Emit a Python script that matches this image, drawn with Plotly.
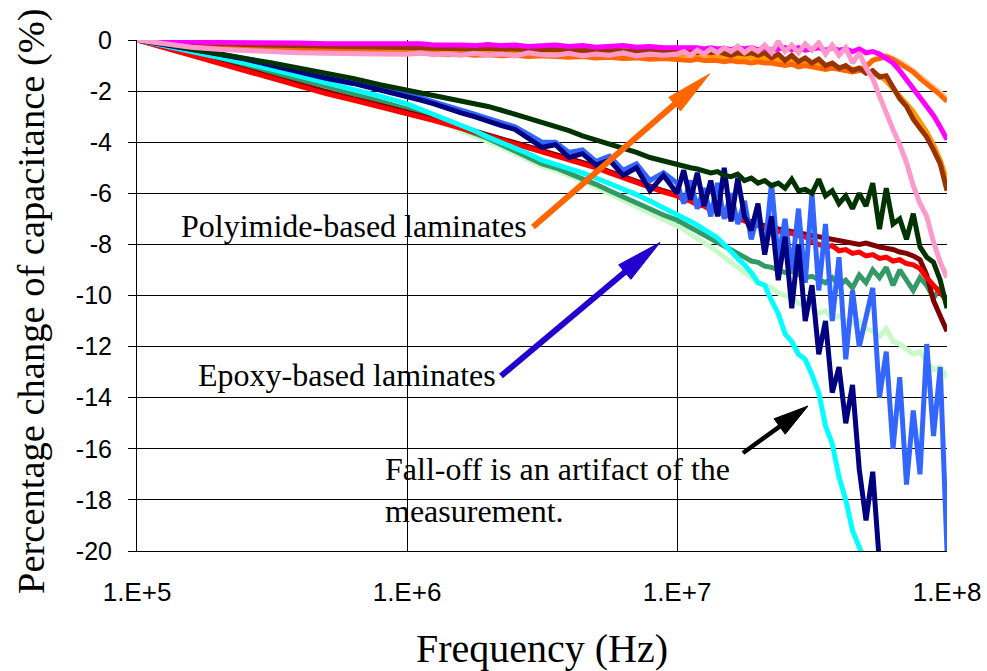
import math
import plotly.graph_objects as go

# ---------------- data ----------------
FREQ_HZ = [
    1.000e5, 1.259e5, 1.585e5, 1.995e5, 2.512e5, 3.162e5, 3.981e5, 5.012e5, 6.310e5, 7.943e5,
    1.000e6, 1.122e6, 1.259e6, 1.413e6, 1.585e6, 1.778e6, 1.995e6, 2.239e6, 2.512e6, 2.818e6,
    3.162e6, 3.548e6, 3.981e6, 4.467e6, 5.012e6, 5.623e6, 6.310e6, 7.079e6, 7.943e6, 8.913e6,
    1.000e7, 1.059e7, 1.122e7, 1.189e7, 1.259e7, 1.334e7, 1.413e7, 1.496e7, 1.585e7, 1.679e7,
    1.778e7, 1.884e7, 1.995e7, 2.113e7, 2.239e7, 2.371e7, 2.512e7, 2.661e7, 2.818e7, 2.985e7,
    3.162e7, 3.350e7, 3.548e7, 3.758e7, 3.981e7, 4.217e7, 4.467e7, 4.732e7, 5.012e7, 5.309e7,
    5.623e7, 5.957e7, 6.310e7, 6.683e7, 7.079e7, 7.499e7, 7.943e7, 8.414e7, 8.913e7, 9.441e7,
    1.000e8,
]

PINK = [
    0, -0.15, -0.28, -0.36, -0.42, -0.47, -0.5, -0.52, -0.55, -0.55,
    -0.56, -0.5, -0.58, -0.55, -0.6, -0.52, -0.6, -0.55, -0.62, -0.5,
    -0.58, -0.6, -0.52, -0.62, -0.55, -0.6, -0.5, -0.62, -0.55, -0.6,
    -0.55, -0.45, -0.6, -0.4, -0.55, -0.35, -0.5, -0.3, -0.45, -0.25,
    -0.5, -0.3, -0.45, -0.2, -0.5, -0.05, -0.45, -0.2, -0.5, -0.15,
    -0.4, -0.1, -0.55, -0.2, -0.6, -0.3, -0.9, -0.5, -1.1, -1.5,
    -2.2, -2.9, -3.5, -4.1, -4.8, -5.7, -6.4, -6.9, -7.9, -8.7,
    -9.3,
]
MAGENTA = [
    0, -0.05, -0.08, -0.1, -0.1, -0.12, -0.12, -0.15, -0.15, -0.15,
    -0.18, -0.15, -0.2, -0.18, -0.2, -0.22, -0.18, -0.22, -0.2, -0.25,
    -0.22, -0.2, -0.25, -0.22, -0.28, -0.25, -0.22, -0.28, -0.25, -0.3,
    -0.3, -0.28, -0.32, -0.3, -0.35, -0.3, -0.35, -0.32, -0.38, -0.3,
    -0.35, -0.3, -0.38, -0.32, -0.4, -0.35, -0.3, -0.38, -0.3, -0.4,
    -0.35, -0.3, -0.4, -0.3, -0.4, -0.35, -0.45, -0.35, -0.5, -0.45,
    -0.55, -0.7, -0.9, -1.2, -1.55, -1.9, -2.25, -2.6, -2.95, -3.4,
    -3.9,
]
ORANGE = [
    0, -0.08, -0.15, -0.22, -0.28, -0.33, -0.38, -0.42, -0.46, -0.5,
    -0.52, -0.5, -0.55, -0.58, -0.55, -0.6, -0.58, -0.62, -0.6, -0.65,
    -0.62, -0.66, -0.68, -0.65, -0.7, -0.68, -0.72, -0.7, -0.75, -0.72,
    -0.75, -0.75, -0.8, -0.75, -0.8, -0.8, -0.8, -0.85, -0.8, -0.85,
    -0.85, -0.9, -0.85, -0.9, -0.9, -0.95, -1.0, -0.95, -1.05, -1.0,
    -1.05, -1.1, -1.15, -1.1, -1.15, -1.2, -1.25, -1.2, -1.05, -0.8,
    -0.7, -0.65, -0.75, -0.9, -1.05, -1.25, -1.5, -1.7, -1.9, -2.15,
    -2.4,
]
PEACH = [
    0, -0.06, -0.12, -0.18, -0.24, -0.28, -0.32, -0.36, -0.4, -0.44,
    -0.46, -0.48, -0.5, -0.52, -0.5, -0.55, -0.56, -0.58, -0.56, -0.6,
    -0.62, -0.6, -0.64, -0.62, -0.66, -0.65, -0.68, -0.66, -0.7, -0.7,
    -0.72, -0.7, -0.75, -0.74, -0.76, -0.78, -0.76, -0.8, -0.82, -0.8,
    -0.84, -0.86, -0.84, -0.88, -0.9, -0.92, -0.95, -0.94, -0.98, -1.0,
    -1.0, -1.05, -1.08, -1.1, -1.12, -1.15, -1.18, -1.15, -1.0, -0.78,
    -0.65, -0.6, -0.7, -0.85, -1.0, -1.2, -1.42, -1.62, -1.85, -2.05,
    -2.3,
]
LIGHT_ORANGE = [
    0, -0.08, -0.14, -0.2, -0.24, -0.28, -0.3, -0.33, -0.35, -0.37,
    -0.4, -0.38, -0.42, -0.4, -0.44, -0.42, -0.45, -0.44, -0.47, -0.45,
    -0.48, -0.47, -0.5, -0.48, -0.5, -0.52, -0.5, -0.53, -0.52, -0.55,
    -0.55, -0.58, -0.56, -0.6, -0.58, -0.62, -0.6, -0.65, -0.68, -0.64,
    -0.7, -0.66, -0.74, -0.7, -0.8, -0.74, -0.85, -0.8, -0.9, -0.85,
    -0.95, -0.9, -1.02, -1.0, -1.1, -1.05, -1.15, -1.12, -1.2, -1.3,
    -1.4, -1.6, -1.9, -2.2, -2.5, -2.8, -3.2, -3.6, -4.1, -4.7,
    -5.5,
]
BROWN = [
    0, -0.06, -0.1, -0.14, -0.18, -0.2, -0.22, -0.25, -0.27, -0.28,
    -0.3, -0.28, -0.32, -0.3, -0.33, -0.35, -0.32, -0.36, -0.35, -0.38,
    -0.36, -0.38, -0.4, -0.38, -0.42, -0.4, -0.42, -0.4, -0.45, -0.42,
    -0.42, -0.45, -0.4, -0.5, -0.45, -0.5, -0.45, -0.55, -0.6, -0.5,
    -0.55, -0.5, -0.6, -0.5, -0.7, -0.55, -0.8, -0.6, -0.85, -0.7,
    -0.9, -0.75, -1.0, -0.9, -1.1, -1.0, -1.2, -1.1, -1.3, -1.2,
    -1.45, -1.4, -1.85, -2.3, -2.6, -3.1, -3.45, -3.8, -4.3, -4.85,
    -5.9,
]
DARK_GREEN = [
    0, -0.15, -0.35, -0.55, -0.72, -0.9, -1.1, -1.3, -1.5, -1.75,
    -1.96, -2.05, -2.15, -2.25, -2.35, -2.5, -2.6, -2.75, -2.9, -3.05,
    -3.25, -3.4, -3.55, -3.75, -3.9, -4.05, -4.25, -4.4, -4.6, -4.75,
    -4.85, -4.95, -5.0, -5.05, -5.1, -5.2, -5.15, -5.3, -5.35, -5.25,
    -5.5, -5.4, -5.6, -5.5, -5.7, -5.6, -5.8, -5.45, -5.9, -5.85,
    -6.0, -5.45, -6.1, -5.9, -6.4, -6.1, -6.6, -6.0, -6.5, -5.6,
    -7.4, -5.8, -7.2, -7.0, -7.8, -6.8, -8.1, -8.5, -8.7, -9.4,
    -10.5,
]
RED = [
    0, -0.3, -0.6, -0.9, -1.2, -1.5, -1.8, -2.1, -2.35, -2.6,
    -2.85, -3.0, -3.15, -3.3, -3.45, -3.6, -3.75, -3.9, -4.05, -4.2,
    -4.4, -4.55, -4.7, -4.85, -5.0, -5.2, -5.4, -5.6, -5.8, -5.95,
    -6.1, -6.25, -6.3, -6.45, -6.5, -6.65, -6.7, -6.85, -6.9, -7.0,
    -7.1, -7.2, -7.25, -7.35, -7.4, -7.5, -7.5, -7.6, -7.65, -7.7,
    -7.9, -8.0, -8.1, -8.05, -8.25, -8.2, -8.35, -8.3, -8.45, -8.4,
    -8.55, -8.5, -8.65, -8.6, -8.75, -8.8, -8.95, -9.3, -9.6, -9.9,
    -10.2,
]
DARK_RED = [
    0, -0.28, -0.57, -0.86, -1.15, -1.45, -1.75, -2.05, -2.3, -2.55,
    -2.8, -2.95, -3.1, -3.25, -3.4, -3.55, -3.7, -3.85, -4.0, -4.15,
    -4.35, -4.5, -4.65, -4.8, -4.95, -5.15, -5.35, -5.55, -5.75, -5.9,
    -6.05, -6.15, -6.25, -6.35, -6.45, -6.55, -6.65, -6.75, -6.85, -6.95,
    -7.05, -7.1, -7.2, -7.25, -7.35, -7.4, -7.45, -7.5, -7.55, -7.6,
    -7.65, -7.7, -7.75, -7.8, -7.85, -7.9, -7.95, -8.0, -7.95, -8.05,
    -8.1, -8.15, -8.2, -8.3, -8.35, -8.45, -8.6, -9.2, -10.2, -10.8,
    -11.4,
]
CYAN = [
    0, -0.22, -0.45, -0.68, -0.9, -1.15, -1.4, -1.7, -1.95, -2.2,
    -2.5, -2.7, -2.9, -3.15, -3.35, -3.55, -3.8, -4.0, -4.2, -4.45,
    -4.7, -4.85, -5.0, -5.2, -5.4, -5.6, -5.8, -6.05, -6.3, -6.55,
    -6.8, -6.95, -7.1, -7.25, -7.4, -7.55, -7.75, -8.0, -8.3, -8.55,
    -8.8, -9.1, -9.5, -9.6, -10.2, -10.7, -11.5, -11.8, -12.3, -12.5,
    -13.1, -13.8, -15.1, -15.8, -17.1, -18.0, -19.2, -19.9, -20.5, None,
    None, None, None, None, None, None, None, None, None, None,
    None,
]
SEA_GREEN = [
    0, -0.25, -0.5, -0.75, -1.0, -1.25, -1.5, -1.8, -2.1, -2.4,
    -2.65, -2.85, -3.05, -3.25, -3.45, -3.65, -3.85, -4.1, -4.35, -4.6,
    -4.85, -5.0, -5.2, -5.4, -5.65, -5.9, -6.15, -6.4, -6.65, -6.85,
    -7.05, -7.2, -7.35, -7.5, -7.6, -7.75, -7.9, -8.05, -8.2, -8.4,
    -8.5, -8.65, -8.7, -8.85, -8.9, -9.0, -9.1, -9.05, -9.2, -9.3,
    -9.25, -9.4, -9.5, -9.3, -9.6, -9.4, -9.7, -9.2, -9.5, -9.0,
    -9.3, -8.9, -9.6, -9.0, -9.4, -9.8, -9.3, -9.6, -10.1, -9.7,
    -10.3,
]
LIGHT_GREEN = [
    0, -0.27, -0.53, -0.78, -1.04, -1.3, -1.56, -1.86, -2.16, -2.46,
    -2.72, -2.92, -3.12, -3.33, -3.53, -3.74, -3.95, -4.2, -4.45, -4.7,
    -4.95, -5.1, -5.3, -5.52, -5.77, -6.02, -6.28, -6.53, -6.78, -7.0,
    -7.25, -7.4, -7.6, -7.75, -7.9, -8.1, -8.3, -8.5, -8.7, -8.9,
    -9.1, -9.3, -9.5, -9.6, -9.7, -9.9, -10.0, -10.1, -10.3, -10.4,
    -10.5, -10.7, -10.6, -10.9, -10.8, -11.0, -11.1, -11.0, -11.3, -11.4,
    -11.6, -11.3, -11.8, -11.9, -12.1, -12.3, -12.2, -12.6, -12.9, -12.8,
    -13.2,
]
NAVY = [
    0, -0.2, -0.38, -0.55, -0.75, -1.0, -1.25, -1.5, -1.7, -1.95,
    -2.2, -2.35, -2.5, -2.65, -2.85, -3.0, -3.2, -3.35, -3.5, -3.85,
    -4.2, -4.1, -4.6, -4.45, -4.9, -4.7, -5.3, -5.0, -5.9, -5.3,
    -6.0, -5.1, -6.25, -5.2, -6.5, -5.5, -6.9, -5.0, -7.1, -5.4,
    -6.9, -7.45, -6.4, -8.4, -6.9, -9.4, -7.7, -10.5, -8.0, -11.0,
    -9.6, -12.3, -11.0, -13.8, -12.8, -15.0, -13.5, -16.8, -18.8, -16.9,
    -20.5, None, None, None, None, None, None, None, None, None,
    None,
]
BLUE = [
    0, -0.18, -0.35, -0.52, -0.72, -0.95, -1.2, -1.45, -1.65, -1.9,
    -2.1, -2.25, -2.4, -2.55, -2.75, -2.9, -3.05, -3.2, -3.4, -3.7,
    -4.0, -4.0, -4.4, -4.3, -4.75, -4.55, -5.1, -4.85, -5.5, -5.2,
    -5.6, -6.4, -5.5, -6.6, -5.8, -6.9, -5.6, -7.0, -6.0, -7.2,
    -6.3, -7.8, -6.8, -8.3, -5.6, -8.6, -7.0, -9.0, -6.6, -9.5,
    -6.0, -9.8, -7.2, -11.0, -8.5, -12.5, -9.8, -12.0, -10.8, -9.7,
    -14.0, -12.2, -16.0, -13.2, -17.4, -14.5, -17.0, -11.9, -15.5, -12.8,
    -20.0,
]

X_TICK_VALUES = [1e5, 1e6, 1e7, 1e8]
X_TICK_LABELS = ["1.E+5", "1.E+6", "1.E+7", "1.E+8"]
Y_TICK_VALUES = [0, -2, -4, -6, -8, -10, -12, -14, -16, -18, -20]
Y_TICK_LABELS = ["0", "-2", "-4", "-6", "-8", "-10", "-12", "-14", "-16", "-18", "-20"]

# drawing order (first = bottom)
SERIES = [
    ("light green", "#C8FAC8", LIGHT_GREEN),
    ("sea green", "#339966", SEA_GREEN),
    ("dark red", "#800000", DARK_RED),
    ("red", "#FF0000", RED),
    ("cyan", "#00FFFF", CYAN),
    ("blue", "#3366FF", BLUE),
    ("navy", "#000080", NAVY),
    ("dark green", "#003300", DARK_GREEN),
    ("peach", "#FFCC99", PEACH),
    ("light orange", "#FF9900", LIGHT_ORANGE),
    ("orange", "#FF6600", ORANGE),
    ("brown", "#993300", BROWN),
    ("magenta", "#FF00FF", MAGENTA),
    ("pink", "#FF99CC", PINK),
]

for _n, _c, vals in SERIES:
    assert len(vals) == len(FREQ_HZ), _n

fig = go.Figure()
for name, color, vals in SERIES:
    fig.add_trace(go.Scatter(x=FREQ_HZ, y=vals, mode="lines", name=name,
                             line=dict(color=color, width=5), connectgaps=False))

# ---------------- layout ----------------
L, R, T, B = 137, 40, 40, 120
W, H = 987, 671
PW, PH = W - L - R, H - T - B


def px(x):
    return (x - L) / PW


def py(y):
    return (H - B - y) / PH


serif = "Liberation Serif, Times New Roman, serif"
sans = "Liberation Sans, Arial, sans-serif"

fig.update_layout(
    width=W, height=H,
    margin=dict(l=L, r=R, t=T, b=B, autoexpand=False),
    paper_bgcolor="white", plot_bgcolor="white",
    showlegend=False,
    xaxis=dict(
        type="log", range=[5, 8], automargin=False,
        tickvals=X_TICK_VALUES, ticktext=X_TICK_LABELS,
        showgrid=True, gridcolor="black", gridwidth=1,
        showline=True, linecolor="black", linewidth=1,
        ticks="", ticklabelstandoff=18,
        tickfont=dict(family=sans, size=26, color="black"),
        title=dict(text="Frequency (Hz)", standoff=27,
                   font=dict(family=serif, size=40, color="black")),
    ),
    yaxis=dict(
        range=[-20, 0], automargin=False,
        tickvals=Y_TICK_VALUES, ticktext=Y_TICK_LABELS,
        showgrid=True, gridcolor="black", gridwidth=1, zeroline=False,
        showline=True, linecolor="black", linewidth=1,
        ticks="outside", ticklen=8, tickcolor="black",
        ticklabelstandoff=11,
        tickfont=dict(family=sans, size=25, color="black"),
    ),
)

# white text boxes (hide gridlines, as in the reference)
BOXES = [
    (156, 195, 569, 254),
    (172, 343, 521, 403),
    (363, 437, 798, 541),
    (508, 87.5, 602, 93.5),
    (413, 190, 513, 196),
]
shapes = []
for x0, y0, x1, y1 in BOXES:
    shapes.append(dict(type="rect", xref="paper", yref="paper",
                       x0=px(x0), x1=px(x1), y0=py(y1), y1=py(y0),
                       fillcolor="white", line=dict(width=0), layer="between"))


def arrow(tail, tip, color, shaft_w, head_len, head_w):
    (x0, y0), (x1, y1) = tail, tip
    dx, dy = x1 - x0, y1 - y0
    d = math.hypot(dx, dy)
    ux, uy = dx / d, dy / d
    bx, by = x1 - ux * head_len, y1 - uy * head_len
    nx, ny = -uy, ux
    ax1, ay1 = bx + nx * head_w / 2, by + ny * head_w / 2
    ax2, ay2 = bx - nx * head_w / 2, by - ny * head_w / 2
    sx, sy = x1 - ux * head_len * 0.7, y1 - uy * head_len * 0.7
    out = [dict(type="line", xref="paper", yref="paper",
                x0=px(x0), y0=py(y0), x1=px(sx), y1=py(sy),
                line=dict(color=color, width=shaft_w), layer="above"),
           dict(type="path", xref="paper", yref="paper",
                path=f"M {px(x1)},{py(y1)} L {px(ax1)},{py(ay1)} L {px(ax2)},{py(ay2)} Z",
                fillcolor=color, line=dict(color=color, width=1), layer="above")]
    return out


shapes += arrow((533, 227), (709.5, 74), "#FF6600", 6, 46, 18)
shapes += arrow((501, 376), (660, 242.5), "#2200D0", 6, 46, 19)
shapes += arrow((743, 453), (808, 406), "#000000", 4.5, 35, 19)
fig.update_layout(shapes=shapes)

# y-axis title (placed as a rotated annotation to sit close to the page edge)
fig.add_annotation(text="Percentage change of capacitance (%)", xref="paper", yref="paper",
                   x=px(31), y=py(301), showarrow=False, textangle=-90,
                   font=dict(family=serif, size=38.5, color="black"),
                   xanchor="center", yanchor="middle")

ann_font = dict(family=serif, size=32, color="black")
fig.add_annotation(text="Polyimide-based laminates", xref="paper", yref="paper",
                   x=px(354), y=py(226), showarrow=False, font=ann_font,
                   xanchor="center", yanchor="middle")
fig.add_annotation(text="Epoxy-based laminates", xref="paper", yref="paper",
                   x=px(347), y=py(375), showarrow=False, font=ann_font,
                   xanchor="center", yanchor="middle")
fig.add_annotation(text="Fall-off is an artifact of the<br>measurement.", xref="paper", yref="paper",
                   x=px(383), y=py(490), showarrow=False, font=ann_font,
                   xanchor="left", yanchor="middle", align="left")

# remove the browser's default 8px page margin so the figure sits at (0, 0)
fig.write_html("out.html", config={"displayModeBar": False},
               post_script="document.body.style.margin='0';document.body.style.overflow='hidden';")
